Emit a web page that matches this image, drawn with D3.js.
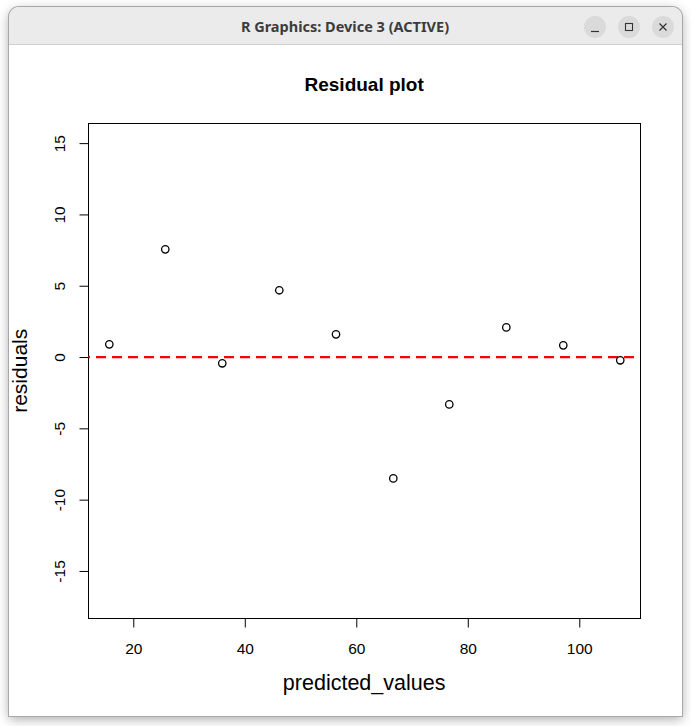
<!DOCTYPE html>
<html>
<head>
<meta charset="utf-8">
<script src="https://cdn.jsdelivr.net/npm/d3@7"></script>
<style>
  html, body { margin: 0; padding: 0; background: #ffffff; width: 691px; height: 726px; overflow: hidden; }
  #win {
    position: absolute; left: 9px; top: 7px; width: 673px; height: 709px;
    background: #ffffff; border-radius: 10px 10px 0 0;
    box-shadow: 0 0 0 1px #a8a8a8, 0 3px 12px rgba(0,0,0,0.35);
  }
  #bar {
    position: absolute; left: 0; top: 0; width: 673px; height: 37px;
    background: #ebebeb; border-radius: 10px 10px 0 0; border-bottom: 1px solid #cfcfcf;
  }
  svg { position: absolute; left: 0; top: 0; }
</style>
</head>
<body>
<div id="win"><div id="bar"></div></div>
<svg id="chart" width="691" height="726"></svg>
<script>
// ---- data ----
const predicted_values = [15.70, 25.74, 35.96, 46.19, 56.36, 66.64, 76.68, 86.91, 97.13, 107.35];
const residuals = [0.89, 7.55, -0.44, 4.68, 1.59, -8.51, -3.32, 2.08, 0.82, -0.23];
const xTicks = [20, 40, 60, 80, 100];
const yTicks = [-15, -10, -5, 0, 5, 10, 15];
const chartTitle = "Residual plot";
const xLabel = "predicted_values";
const yLabel = "residuals";
const windowTitle = "R Graphics: Device 3 (ACTIVE)";

const svg = d3.select("#chart");
const font = "'Liberation Sans', Arial, Helvetica, sans-serif";

// ---- window chrome ----
svg.append("text").attr("x", 345).attr("y", 32).attr("text-anchor", "middle")
  .attr("font-family", "'Noto Sans', 'DejaVu Sans', sans-serif").attr("font-weight", "bold")
  .attr("font-size", 14.5).attr("fill", "#3c3c3c").text(windowTitle);
const btnX = [595, 629, 663];
btnX.forEach(cx => svg.append("circle").attr("cx", cx).attr("cy", 27).attr("r", 11).attr("fill", "#dadada"));
svg.append("line").attr("x1", 591).attr("x2", 599).attr("y1", 31.5).attr("y2", 31.5).attr("stroke", "#333").attr("stroke-width", 1.2);
svg.append("rect").attr("x", 625.5).attr("y", 23.5).attr("width", 7).attr("height", 7).attr("fill", "none").attr("stroke", "#333").attr("stroke-width", 1.1);
svg.append("path").attr("d", "M659.5,23.5 L666.5,30.5 M666.5,23.5 L659.5,30.5").attr("stroke", "#333").attr("stroke-width", 1.2);

// ---- plot region ----
const L = 88.3, R = 640, T = 123.3, B = 618.3;
const x = d3.scaleLinear().domain([11.93, 110.89]).range([L, R]);
const y = d3.scaleLinear().domain([-18.32, 16.39]).range([B, T]);

const g = svg.append("g");

// box
g.append("rect").attr("x", Math.round(L) + 0.5).attr("y", Math.round(T) + 0.5)
  .attr("width", Math.round(R) - Math.round(L)).attr("height", Math.round(B) - Math.round(T))
  .attr("fill", "none").attr("stroke", "#000").attr("stroke-width", 1);

const fmt = d => String(d);

// x axis
const xAxis = d3.axisBottom(x).tickValues(xTicks).tickSize(9).tickPadding(15).tickFormat(fmt);
const gx = g.append("g").attr("transform", `translate(0,${Math.round(B) + 0.5})`).call(xAxis);
gx.select(".domain").remove();
gx.selectAll("line").attr("stroke", "#000");
gx.selectAll("text").attr("font-family", font).attr("font-size", 15.5).attr("fill", "#000");

// y axis
const yAxis = d3.axisLeft(y).tickValues(yTicks).tickSize(9).tickFormat(fmt);
const gy = g.append("g").attr("transform", `translate(${Math.round(L) + 0.5},0)`).call(yAxis);
gy.select(".domain").remove();
gy.selectAll("line").attr("stroke", "#000");
gy.selectAll(".tick text")
  .attr("font-family", font).attr("font-size", 15.5).attr("fill", "#000")
  .attr("x", null).attr("dy", null)
  .attr("text-anchor", "middle")
  .attr("transform", `translate(${65 - (Math.round(L) + 0.5)},0) rotate(-90)`);

// zero line (dashed red)
g.append("line").attr("x1", L).attr("x2", R).attr("y1", y(0)).attr("y2", y(0))
  .attr("stroke", "#ff0000").attr("stroke-width", 2.2)
  .attr("stroke-dasharray", "10,6").attr("stroke-dashoffset", 8.3);

// points
g.selectAll("circle.pt").data(predicted_values.map((v, i) => [v, residuals[i]]))
  .enter().append("circle").attr("class", "pt")
  .attr("cx", d => x(d[0])).attr("cy", d => y(d[1])).attr("r", 3.7)
  .attr("fill", "none").attr("stroke", "#000").attr("stroke-width", 1.3);

// titles
svg.append("text").attr("x", (L + R) / 2).attr("y", 91).attr("text-anchor", "middle")
  .attr("font-family", font).attr("font-weight", "bold").attr("font-size", 19).attr("fill", "#000").text(chartTitle);
svg.append("text").attr("x", (L + R) / 2).attr("y", 690).attr("text-anchor", "middle")
  .attr("font-family", font).attr("font-size", 21.5).attr("fill", "#000").text(xLabel);
svg.append("text").attr("transform", `translate(27,${(T + B) / 2}) rotate(-90)`).attr("text-anchor", "middle")
  .attr("font-family", font).attr("font-size", 21).attr("fill", "#000").text(yLabel);
</script>
</body>
</html>
